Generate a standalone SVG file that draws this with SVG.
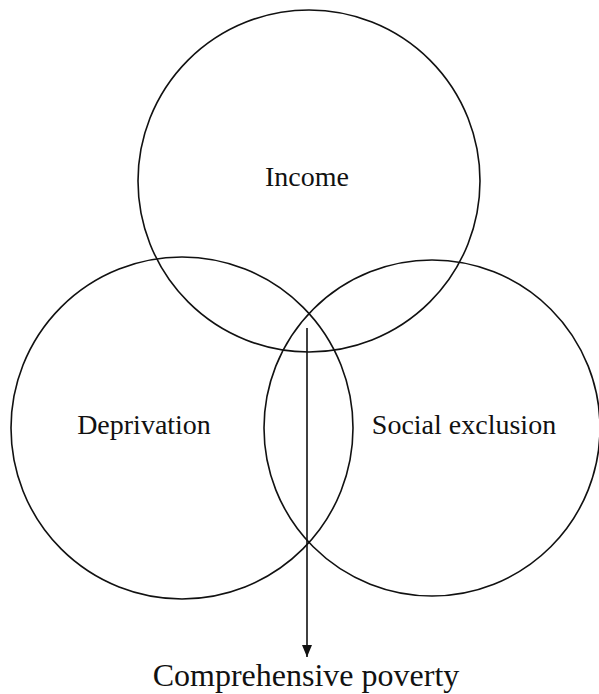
<svg xmlns="http://www.w3.org/2000/svg" width="599" height="694" viewBox="0 0 599 694">
<style>
.c{fill:none;stroke:#111;stroke-width:1.6}
.t{font-family:"Liberation Serif","Times New Roman",serif;fill:#111;text-anchor:middle}
</style>
<defs>
<marker id="ah" markerWidth="12" markerHeight="10" refX="12" refY="5" orient="auto" markerUnits="userSpaceOnUse">
<path d="M0,0 L12,5 L0,10 Z" fill="#111"/>
</marker>
</defs>
<rect width="599" height="694" fill="#fff"/>
<g id="income"><circle class="c" cx="309" cy="181" r="171"/><text class="t" x="307" y="186" font-size="28">Income</text></g>
<g id="deprivation"><circle class="c" cx="182" cy="428" r="171"/><text class="t" x="144" y="434" font-size="28">Deprivation</text></g>
<g id="social"><circle class="c" cx="432" cy="428" r="168"/><text class="t" x="464" y="434" font-size="28">Social exclusion</text></g>
<g id="connectors"><line x1="307" y1="328" x2="307" y2="657" stroke="#111" stroke-width="1.6" marker-end="url(#ah)"/></g>
<g id="poverty"><text class="t" x="306" y="686" font-size="32">Comprehensive poverty</text></g>
</svg>
